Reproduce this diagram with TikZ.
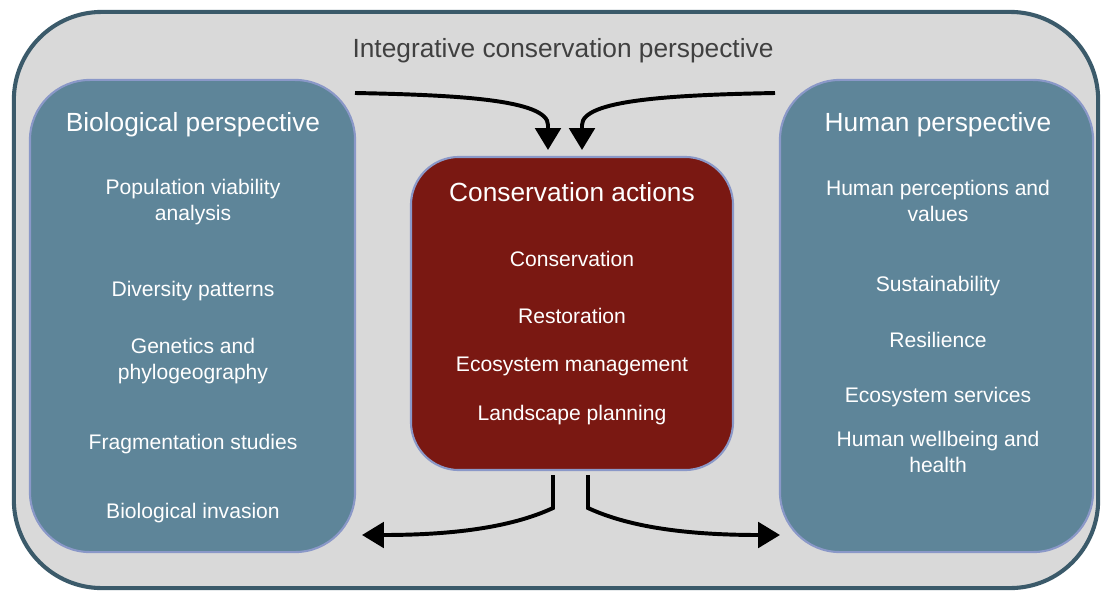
\documentclass[tikz,border=0pt]{standalone}
\usepackage{fontspec}
\setmainfont{Liberation Sans}
\usetikzlibrary{arrows.meta,positioning}
\definecolor{framefill}{HTML}{D9D9D9}
\definecolor{frameline}{HTML}{3B5A6A}
\definecolor{panelfill}{HTML}{5E8599}
\definecolor{panelline}{HTML}{8A98C8}
\definecolor{actfill}{HTML}{7A1812}
\definecolor{titletext}{HTML}{404040}
\tikzset{
  framebox/.style={draw=frameline, line width=2.9pt, fill=framefill, rounded corners=2.2cm, inner sep=0pt},
  panel/.style={draw=panelline, line width=1.5pt, fill=panelfill, rounded corners=1.5cm, inner sep=0pt},
  actbox/.style={panel, fill=actfill, rounded corners=1.2cm},
  head/.style={anchor=base, text=white, inner sep=0pt, font=\fontsize{18.7}{22}\selectfont},
  item/.style={anchor=base, text=white, inner sep=0pt, align=center, font=\fontsize{15}{18.4}\selectfont},
  flow/.style={line width=2.8pt, -{Triangle[width=18pt,length=15.5pt]}}
}

\begin{document}
\begin{tikzpicture}[x=0.025cm, y=-0.025cm]
  \useasboundingbox (0,0) rectangle (1103,592);
  % boxes
  \node[framebox, minimum width=27.1cm, minimum height=14.4cm] (frame) at (556,300) {};
  \node[panel, minimum width=8.125cm, minimum height=11.8cm] (bio) at (192.5,316) {};
  \node[panel, minimum width=7.825cm, minimum height=11.8cm] (hum) at (936.5,316) {};
  \node[actbox, minimum width=8.05cm, minimum height=7.825cm] (act) at (572,313.5) {};

  % headings
  \node[head, text=titletext] (integ) at (563,57) {Integrative conservation perspective};
  \node[head] (bio-head) at (193,131) {Biological perspective};
  \node[head] (act-head) at (572,201) {Conservation actions};
  \node[head] (hum-head) at (938,131) {Human perspective};

  % items (base = last line)
  \foreach \y/\t [count=\i] in {220.5/{Population viability\\analysis}, 296.5/Diversity patterns,
      379.5/{Genetics and\\phylogeography}, 449.5/Fragmentation studies, 518.5/Biological invasion}
    \node[item] (bio-\i) at (193,\y) {\t};
  \foreach \y/\t [count=\i] in {266.5/Conservation, 323.5/Restoration,
      371.5/Ecosystem management, 420.5/Landscape planning}
    \node[item] (act-\i) at (572,\y) {\t};
  \foreach \y/\t [count=\i] in {221.5/{Human perceptions and\\values}, 291.5/Sustainability,
      347.5/Resilience, 402.5/Ecosystem services, 472.5/{Human wellbeing and\\health}}
    \node[item] (hum-\i) at (938,\y) {\t};

  % connectors
  \coordinate (in-l) at (355,93);
  \coordinate (in-r) at (775,93);
  \coordinate (tip-l) at (548,150);
  \coordinate (tip-r) at (582,150);
  \coordinate (out-l) at (553,475);
  \coordinate (out-r) at (588,475);
  \coordinate (end-l) at (362,535);
  \coordinate (end-r) at (780,535);
  \draw[flow] (in-l) .. controls (460,95) and (548,100) .. (548,125) -- (tip-l);
  \draw[flow] (in-r) .. controls (670,95) and (582,100) .. (582,125) -- (tip-r);
  \draw[flow] (out-l) -- (553,508) .. controls (510,528) and (450,535) .. (end-l);
  \draw[flow] (out-r) -- (588,508) .. controls (631,528) and (691,535) .. (end-r);
\end{tikzpicture}
\end{document}
